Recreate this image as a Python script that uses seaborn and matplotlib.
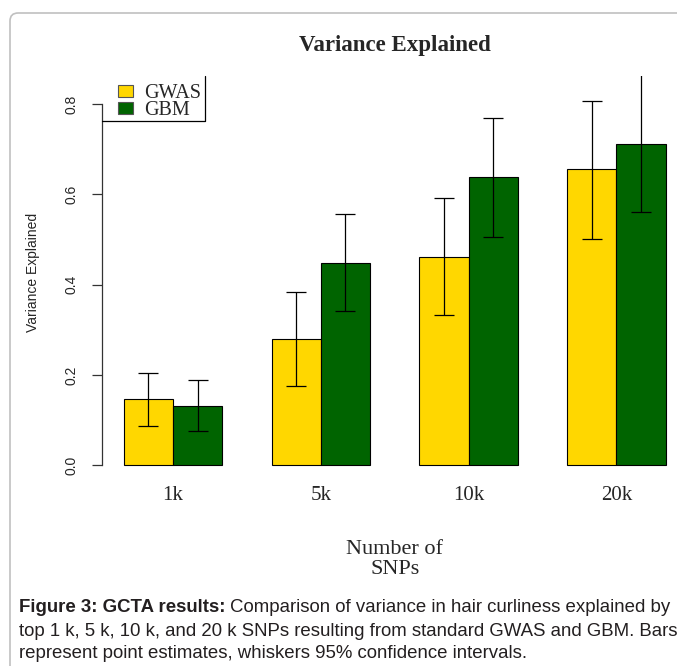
import matplotlib
matplotlib.use("Agg")
import matplotlib.pyplot as plt
from matplotlib import font_manager
from matplotlib.patches import Patch, FancyBboxPatch, Rectangle
import seaborn as sns
import pandas as pd
import numpy as np

# ---- data ----
snps = ["1k", "5k", "10k", "20k"]
methods = ["GWAS", "GBM"]
gwas_est = [0.146, 0.279, 0.461, 0.655]
gwas_low = [0.086, 0.175, 0.332, 0.501]
gwas_high = [0.203, 0.383, 0.591, 0.807]
gbm_est = [0.132, 0.447, 0.638, 0.711]
gbm_low = [0.075, 0.341, 0.505, 0.560]
gbm_high = [0.189, 0.556, 0.768, 0.870]
y_ticks = [0.0, 0.2, 0.4, 0.6, 0.8]

colors = {"GWAS": "#FFD700", "GBM": "#006400"}

sns.set_style("white")
names = {f.name for f in font_manager.fontManager.ttflist}
narrow = "Liberation Sans Narrow" if "Liberation Sans Narrow" in names else "Liberation Sans"
serif = ["Liberation Serif", "DejaVu Serif"]
sans = ["Liberation Sans", "DejaVu Sans"]
plt.rcParams["font.family"] = sans

df = pd.DataFrame({
    "snps": snps * 2,
    "method": ["GWAS"] * 4 + ["GBM"] * 4,
    "value": gwas_est + gbm_est,
})

W, H = 677, 666
fig = plt.figure(figsize=(W / 100, H / 100), dpi=100)

# axes in pixel geometry
ax_l, ax_r, ax_t, ax_b = 102.5, 687, 76, 480
ax = fig.add_axes([ax_l / W, 1 - ax_b / H, (ax_r - ax_l) / W, (ax_b - ax_t) / H])
ax.set_facecolor("none")

sns.barplot(data=df, x="snps", y="value", hue="method", order=snps,
            hue_order=methods, palette=colors, width=2 / 3, gap=0,
            saturation=1, errorbar=None, edgecolor="black", linewidth=0.8,
            ax=ax, legend=False)

# error bars positioned on the bars seaborn drew
bars = [p for p in ax.patches if isinstance(p, Rectangle) and p.get_width() > 0]
bars.sort(key=lambda b: b.get_x())
lows = [gwas_low, gbm_low]
highs = [gwas_high, gbm_high]
ests = [gwas_est, gbm_est]
for i, b in enumerate(bars[:8]):
    g, k = divmod(i, 2)
    xc = b.get_x() + b.get_width() / 2
    e = ests[k][g]
    ax.errorbar([xc], [e], yerr=[[e - lows[k][g]], [highs[k][g] - e]], fmt="none",
                ecolor="black", elinewidth=0.9, capsize=7.5, capthick=0.9, zorder=5)

ax.set_xlim(-0.477, 3.477)
ax.set_ylim(-0.033, 0.862)
for s in ["top", "right", "bottom"]:
    ax.spines[s].set_visible(False)
ax.spines["left"].set_bounds(0, 0.8)
ax.spines["left"].set_color("#333333")
ax.spines["left"].set_linewidth(0.9)
ax.set_yticks(y_ticks)
ax.set_yticklabels([f"{v:.1f}" for v in y_ticks], rotation=90, va="center",
                   family=[narrow, "DejaVu Sans"], fontsize=10)
ax.tick_params(axis="y", left=True, length=7, width=0.9, color="#333333", pad=10)
ax.tick_params(axis="x", bottom=False, length=0, pad=4)
ax.set_xticks(range(len(snps)))
ax.set_xticklabels(snps, family=serif, fontsize=15)
ax.set_xlabel("")
ax.set_ylabel("")

# legend (R style, partially boxed)
handles = [Patch(facecolor=colors[m], edgecolor="#555555", linewidth=0.8) for m in methods]
leg = ax.legend(handles, methods, loc="upper left", bbox_to_anchor=(0.012, 1.0),
                frameon=False, prop={"family": serif, "size": 14.5},
                handlelength=0.75, handleheight=0.5, handletextpad=0.55,
                labelspacing=-0.1, borderaxespad=0)
xr = (205 - ax_l) / (ax_r - ax_l)
yb = (ax_b - 121) / (ax_b - ax_t)
ax.plot([0, xr, xr], [yb, yb, 1.0], transform=ax.transAxes, color="black",
        lw=0.9, clip_on=False, zorder=6)

# titles / labels
fig.text(395 / W, 1 - 45 / H, "Variance Explained", ha="center", va="center",
         family=serif, fontsize=16.5, fontweight="bold")
fig.text(395 / W, 1 - 550 / H, "Number of", ha="center", va="center",
         family=serif, fontsize=16)
fig.text(395 / W, 1 - 570 / H, "SNPs", ha="center", va="center",
         family=serif, fontsize=16)
fig.text(33 / W, 1 - 272 / H, "Variance Explained", ha="center", va="center",
         rotation=90, family=[narrow, "DejaVu Sans"], fontsize=10)

# panel border
fig.patches.append(FancyBboxPatch((10 / W, -0.2), 1.2, 1.2 - 13 / H,
                                  boxstyle="round,pad=0,rounding_size=0.012",
                                  transform=fig.transFigure, facecolor="none",
                                  edgecolor="#c0c0c0", linewidth=1.2))

# caption
cap_color = "#231f20"
cap_fs = 13.4
fig.canvas.draw()
r = fig.canvas.get_renderer()
t_bold = fig.text(19 / W, 1 - 607 / H, "Figure 3: GCTA results:", ha="left", va="center",
                  family=sans, fontsize=cap_fs, fontweight="bold", color=cap_color)
bb = t_bold.get_window_extent(renderer=r)
fig.text(bb.x1 / W + 4 / W, 1 - 607 / H,
         "Comparison of variance in hair curliness explained by",
         ha="left", va="center", family=sans, fontsize=cap_fs, color=cap_color)
fig.text(19 / W, 1 - 631 / H,
         "top 1 k, 5 k, 10 k, and 20 k SNPs resulting from standard GWAS and GBM. Bars",
         ha="left", va="center", family=sans, fontsize=cap_fs, color=cap_color)
fig.text(19 / W, 1 - 654 / H,
         "represent point estimates, whiskers 95% confidence intervals.",
         ha="left", va="center", family=sans, fontsize=cap_fs, color=cap_color)

fig.savefig("out.png", dpi=100)
